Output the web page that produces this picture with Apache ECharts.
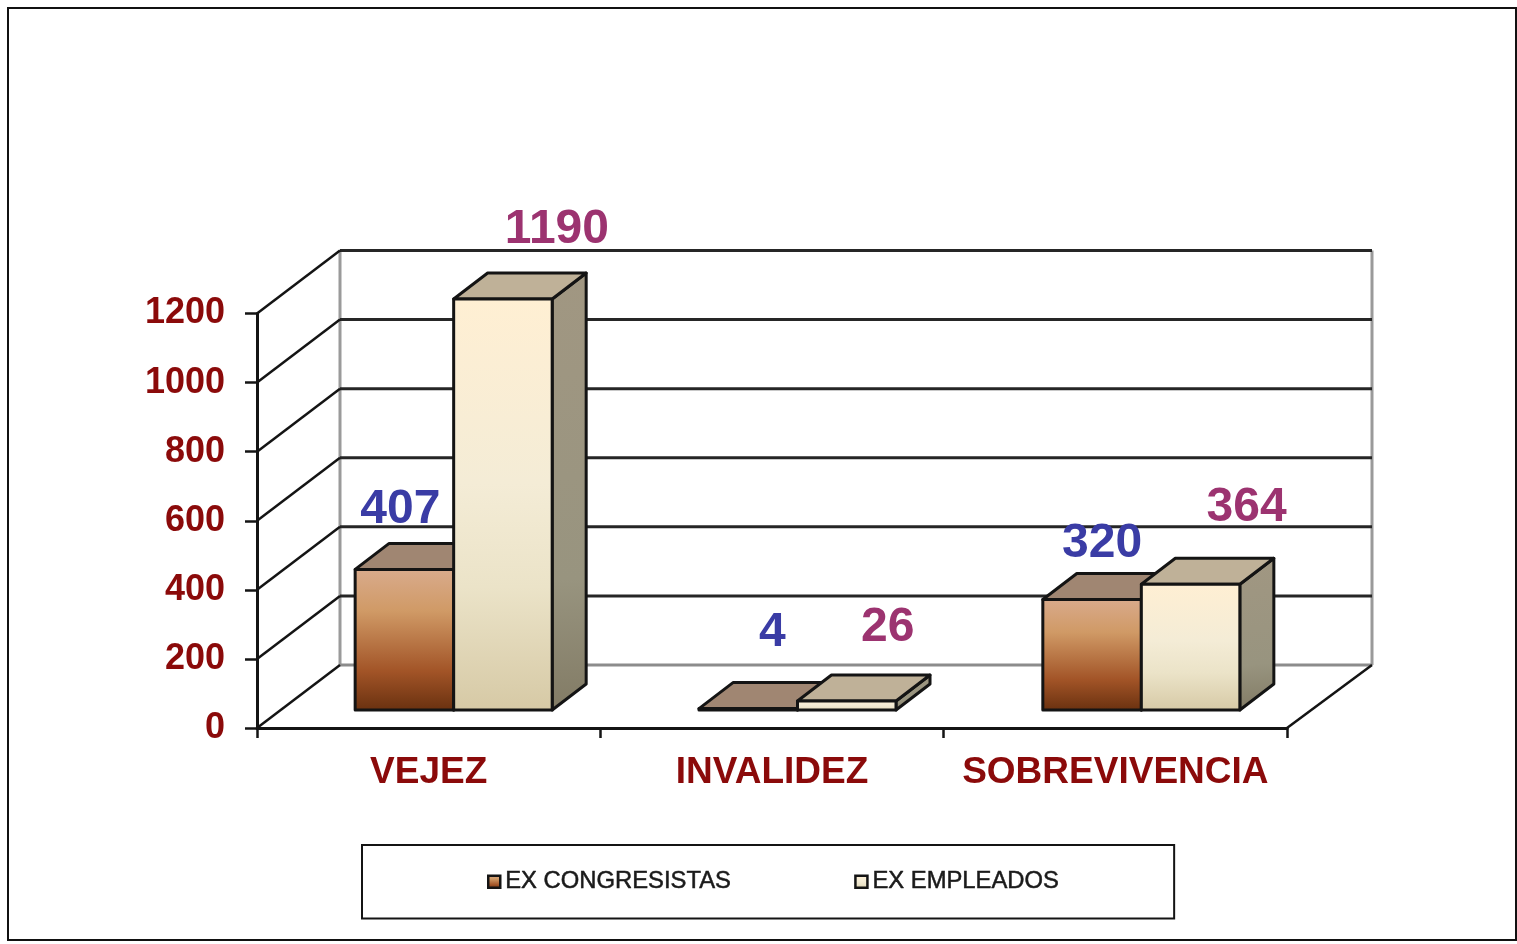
<!DOCTYPE html>
<html>
<head>
<meta charset="utf-8">
<style>html,body{margin:0;padding:0;background:#fff}#c{width:1517px;height:944px}</style>
<script src="https://cdn.jsdelivr.net/npm/echarts@6/dist/echarts.min.js"></script>
</head>
<body>
<div id="c"></div>
<script>
const categories = ['VEJEZ', 'INVALIDEZ', 'SOBREVIVENCIA'];
const exCongresistas = [407, 4, 320];
const exEmpleados = [1190, 26, 364];
const yTicks = [0, 200, 400, 600, 800, 1000, 1200];
const seriesNames = ['EX CONGRESISTAS', 'EX EMPLEADOS'];

// Style constants of the pseudo-3D projection (pixels)
const WALL = [83, -63], WALL_RIGHT_DX = 85, BAR_SHIFT = [25, -18], BAR_SHIFT_STEP = 0.5, BAR_DEPTH = [34, -26], BAR_RATIO = 98.5 / 343.3;
const INK = '#141414', FONT = '"Liberation Sans", Arial, sans-serif';
const LABEL_NUDGE = [
  [[-4, -60], [24, -76], [10, -56]],
  [[54, -69], [41, -73], [56, -77]]
];
const grad = (stops, x2 = 0, y2 = 1) => ({
  type: 'linear', x: 0, y: 0, x2, y2,
  colorStops: stops.map(s => ({ offset: s[0], color: s[1] }))
});
const SKINS = [
  {
    front: grad([[0, '#D9AB8D'], [0.3, '#D09A66'], [0.72, '#A25427'], [1, '#68300F']]),
    top: '#A08672',
    side: grad([[0, '#90735F'], [1, '#5F3F28']]),
    label: '#3A3CA5'
  },
  {
    front: grad([[0, '#FFEFD3'], [0.45, '#F4ECD6'], [0.7, '#EBE3C8'], [1, '#D6C9A5']]),
    top: '#BFB198',
    side: grad([[0, '#A19782'], [0.7, '#98947F'], [1, '#827B65']], 0.3, 1),
    label: '#9C3370'
  }
];

function renderWall(params, api) {
  const tick = api.value(1);
  const cs = params.coordSys;
  const y = api.coord([0, tick])[1];
  const xl = cs.x, xr = cs.x + cs.width;
  const bx = xl + WALL[0], bxr = xr + WALL_RIGHT_DX, by = y + WALL[1];
  const kids = [];
  const line = (x1, y1, x2, y2, stroke, lineWidth) => kids.push({
    type: 'line', shape: { x1, y1, x2, y2 }, style: { stroke, lineWidth }
  });
  if (tick === 0) {
    const topY = api.coord([0, yTicks[yTicks.length - 1]])[1] + WALL[1];
    line(bx, topY, bx, by, '#9A9A9A', 3);
    line(bxr, topY, bxr, by, '#9A9A9A', 3);
    line(bx, by, bxr, by, '#8C8C8C', 3);
    line(xr, y, bxr, by, INK, 2.5);
  } else {
    line(bx, by, bxr, by, '#262626', 3);
  }
  line(xl, y, bx, by, INK, 2.5);
  return { type: 'group', children: kids };
}

function renderBar(seriesIndex) {
  return function (params, api) {
    const cat = api.value(0), val = api.value(1);
    const w = api.size([1, 0])[0] * BAR_RATIO;
    const p0 = api.coord([cat, 0]), p1 = api.coord([cat, val]);
    const x0 = p0[0] + BAR_SHIFT[0] + cat * BAR_SHIFT_STEP + (seriesIndex - 1) * w;
    const x1 = x0 + w;
    const yb = p0[1] + BAR_SHIFT[1], yt = p1[1] + BAR_SHIFT[1];
    const dx = BAR_DEPTH[0], dy = BAR_DEPTH[1];
    const skin = SKINS[seriesIndex];
    const nudge = LABEL_NUDGE[seriesIndex][cat];
    const edge = { stroke: INK, lineWidth: 3, lineJoin: 'round' };
    return {
      type: 'group',
      children: [
        { type: 'polygon', shape: { points: [[x1, yb], [x1 + dx, yb + dy], [x1 + dx, yt + dy], [x1, yt]] },
          style: Object.assign({ fill: skin.side }, edge) },
        { type: 'polygon', shape: { points: [[x0, yt], [x0 + dx, yt + dy], [x1 + dx, yt + dy], [x1, yt]] },
          style: Object.assign({ fill: skin.top }, edge) },
        { type: 'rect', shape: { x: x0, y: yt, width: w, height: yb - yt },
          style: Object.assign({ fill: skin.front }, edge) },
        { type: 'text', style: {
            text: String(val), x: (x0 + x1) / 2 + nudge[0], y: yt + nudge[1],
            fill: skin.label, font: 'bold 48px ' + FONT,
            textAlign: 'center', textVerticalAlign: 'middle' } }
      ]
    };
  };
}

const chart = echarts.init(document.getElementById('c'), null, { renderer: 'canvas' });
chart.setOption({
  animation: false,
  backgroundColor: '#fff',
  graphic: [{
    type: 'rect', silent: true, z: -1,
    shape: { x: 8, y: 8, width: 1508, height: 932 },
    style: { fill: 'none', stroke: '#111', lineWidth: 2 }
  }],
  grid: { left: 257, right: 230, top: 313.5, bottom: 216 },
  legend: {
    data: [
      { name: seriesNames[0], icon: 'rect', itemStyle: { color: SKINS[0].front, borderColor: INK, borderWidth: 2.5 } },
      { name: seriesNames[1], icon: 'rect', itemStyle: { color: SKINS[1].front, borderColor: INK, borderWidth: 2.5 } }
    ],
    left: 362, top: 845,
    padding: [24.5, 115, 24.5, 125],
    itemWidth: 12, itemHeight: 12, itemGap: 123,
    selectedMode: false,
    borderColor: INK, borderWidth: 2,
    textStyle: { fontFamily: FONT, fontSize: 23.8, color: '#1a1a1a', textBorderColor: '#1a1a1a', textBorderWidth: 0.5 }
  },
  xAxis: {
    type: 'category', data: categories, boundaryGap: true,
    axisLine: { lineStyle: { color: INK, width: 3 } },
    axisTick: { show: true, length: 10, lineStyle: { color: INK, width: 2.5 } },
    axisLabel: { color: '#8B0A0A', fontFamily: FONT, fontWeight: 'bold', fontSize: 37, margin: 26, interval: 0 },
    splitLine: { show: false }
  },
  yAxis: {
    type: 'value', min: 0, max: 1200, interval: 200,
    axisLine: { show: true, lineStyle: { color: INK, width: 3 } },
    axisTick: { show: true, length: 12, lineStyle: { color: INK, width: 2.5 } },
    axisLabel: { color: '#8B0A0A', fontFamily: FONT, fontWeight: 'bold', fontSize: 36, margin: 32, formatter: v => String(v) },
    splitLine: { show: false }
  },
  series: [
    { type: 'custom', name: 'wall', coordinateSystem: 'cartesian2d', clip: false, silent: true, z: 1,
      renderItem: renderWall, encode: { x: 0, y: 1 },
      data: yTicks.map(t => [0, t]) },
    { type: 'custom', name: seriesNames[0], coordinateSystem: 'cartesian2d', clip: false, z: 2,
      renderItem: renderBar(0), encode: { x: 0, y: 1 },
      itemStyle: { color: '#A25427' },
      data: exCongresistas.map((v, i) => [i, v]) },
    { type: 'custom', name: seriesNames[1], coordinateSystem: 'cartesian2d', clip: false, z: 3,
      renderItem: renderBar(1), encode: { x: 0, y: 1 },
      itemStyle: { color: '#F4ECD6' },
      data: exEmpleados.map((v, i) => [i, v]) }
  ]
});
</script>
</body>
</html>
